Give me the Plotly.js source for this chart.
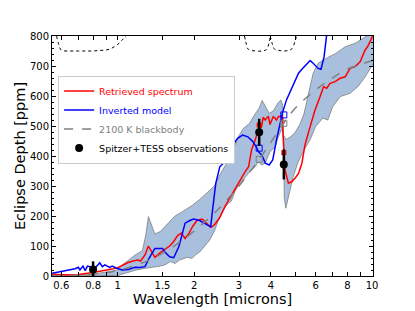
<!DOCTYPE html>
<html><head><meta charset="utf-8">
<script src="https://cdn.plot.ly/plotly-3.0.1.min.js"></script>
<style>html,body{margin:0;padding:0;background:#fff;} #chart{width:415px;height:311px;}</style>
</head><body><div id="chart"></div>
<script>
// Retrieved spectrum (red)
const retWave = [0.552,0.60,0.65,0.70,0.75,0.80,0.85,0.90,0.95,1.00,1.05,1.10,1.15,1.20,1.23,1.25,1.28,1.32,1.35,1.40,1.47,1.54,1.60,1.66,1.72,1.78,1.84,1.90,1.97,2.05,2.15,2.24,2.32,2.40,2.52,2.64,2.76,2.89,3.03,3.17,3.27,3.36,3.47,3.57,3.68,3.73,3.80,3.91,3.97,4.03,4.09,4.16,4.21,4.28,4.41,4.44,4.47,4.50,4.55,4.69,4.83,4.98,5.14,5.30,5.45,5.71,5.97,6.25,6.45,6.64,6.84,7.16,7.49,7.84,8.20,8.58,8.98,9.39,9.60,9.90,10.15];
const retDepth = [6,4,3,5,8,12,16,19,23,28,37,45,50,53,50,57,70,100,87,62,78,90,100,115,135,143,125,140,165,185,190,175,162,170,195,231,259,292,320,348,364,420,453,487,498,529,520,533,505,518,531,526,520,531,533,533,470,410,353,309,314,326,342,376,437,498,553,598,631,626,642,648,659,664,692,698,714,753,764,787,810];
// Inverted model (blue)
const invWave = [0.552,0.60,0.65,0.68,0.70,0.71,0.73,0.745,0.76,0.80,0.82,0.85,0.87,0.89,0.93,0.95,0.99,1.04,1.10,1.17,1.22,1.28,1.33,1.40,1.50,1.53,1.60,1.66,1.74,1.80,1.84,1.92,1.99,2.10,2.20,2.32,2.36,2.43,2.52,2.64,2.72,2.81,2.96,3.10,3.25,3.40,3.50,3.58,3.69,3.81,3.94,4.07,4.21,4.33,4.44,4.61,4.83,4.98,5.14,5.30,5.55,5.71,5.87,6.14,6.30,6.48,6.62,6.70];
const invDepth = [9,14,20,24,29,20,33,18,33,28,29,44,31,37,29,33,26,20,22,29,28,31,60,92,92,81,64,61,98,148,176,185,190,185,175,164,220,309,364,381,398,431,459,470,464,448,431,414,403,376,370,387,453,498,542,587,626,653,676,689,709,718,709,692,689,731,798,840];
// Retrieval uncertainty band
const upWave = [0.552,0.80,1.00,1.04,1.12,1.17,1.25,1.29,1.32,1.35,1.40,1.47,1.57,1.68,1.80,1.96,2.10,2.25,2.40,2.55,2.70,2.84,2.98,3.12,3.30,3.45,3.60,3.70,3.81,3.94,4.09,4.26,4.38,4.45,4.48,4.60,4.80,5.00,5.20,5.40,5.60,5.87,6.14,6.62,7.20,7.84,8.60,9.00,9.50,10.15];
const upDepth = [3,6,20,37,57,70,84,137,198,176,140,148,175,200,215,235,255,280,300,345,380,420,464,492,509,537,560,585,564,542,550,576,587,570,470,455,465,480,505,540,600,676,709,726,742,764,776,787,800,815];
const loWave = [0.552,0.80,1.00,1.08,1.18,1.29,1.40,1.47,1.53,1.61,1.68,1.75,1.87,1.96,2.02,2.10,2.20,2.30,2.40,2.50,2.60,2.70,2.80,2.90,3.03,3.17,3.31,3.47,3.57,3.68,3.80,3.97,4.16,4.28,4.40,4.47,4.52,4.58,4.70,4.90,5.10,5.40,5.70,6.00,6.40,6.70,7.00,7.50,8.20,8.80,9.40,10.15];
const loDepth = [0,1,2,10,20,26,30,33,37,48,42,53,62,59,70,80,100,120,150,190,220,240,250,285,309,331,348,364,381,370,376,414,431,464,487,480,260,226,264,331,376,420,453,498,526,520,564,598,609,631,664,710];
// 2100 K blackbody
const bbWave = [0.552,0.6,0.7,0.8,0.9,1.0,1.2,1.4,1.6,1.8,2.0,2.3,2.6,3.0,3.5,4.0,4.5,5.0,6.0,7.0,8.0,9.0,10.15];
const bbDepth = [0.5,1,3,6,11,18,38,62,90,120,150,195,240,300,375,445,510,560,620,660,690,705,720];
// Bandpasses (dotted, drawn near top)
const tessWave = [0.575,0.585,0.60,0.65,0.70,0.75,0.80,0.85,0.90,0.95,1.00,1.05,1.08];
const tessDepth = [800,775,753,750,750,750,750,752,753,760,772,790,800];
const ch1Wave = [3.15,3.19,3.25,3.35,3.50,3.70,3.85,3.93,3.98];
const ch1Depth = [800,780,757,752,750,750,755,775,800];
const ch2Wave = [3.98,4.05,4.15,4.30,4.50,4.70,4.85,4.97,5.05];
const ch2Depth = [800,775,755,752,750,752,758,780,800];
// Observations
const obsWave = [0.8, 3.6, 4.5];
const obsDepth = [22, 479, 372];
const obsErr = [27, 45, 50];
// Band-integrated model values
const binWave = [3.6, 4.5];
const binRet = [503, 411];
const binInv = [426, 537];
const binBB = [389, 509];
// Axis ticks
const xTickVals = [0.6,0.7,0.8,0.9,1,1.5,2,3,4,5,6,7,8,9,10];
const xTickText = ['0.6','','0.8','','1','1.5','2','3','4','','6','','8','','10'];

const traces = [
  {x: loWave, y: loDepth, mode:'lines', line:{color:'#7f7f7f', width:0.8}, showlegend:false, hoverinfo:'skip'},
  {x: upWave, y: upDepth, mode:'lines', fill:'tonexty', fillcolor:'rgb(168,192,222)', line:{color:'#7f7f7f', width:0.8}, showlegend:false, hoverinfo:'skip'},
  {x: retWave, y: retDepth, mode:'lines', name:'<span style="color:red">Retrieved spectrum</span>', line:{color:'red', width:1.5}},
  {x: invWave, y: invDepth, mode:'lines', name:'<span style="color:blue">Inverted model</span>', line:{color:'blue', width:1.5}},
  {x: bbWave, y: bbDepth, mode:'lines', name:'<span style="color:gray">2100 K blackbody</span>', line:{color:'gray', width:1.5, dash:'dash', shape:'spline'}},
  {x: tessWave, y: tessDepth, mode:'lines', line:{color:'black', width:1, dash:'dot', shape:'spline'}, showlegend:false},
  {x: ch1Wave, y: ch1Depth, mode:'lines', line:{color:'black', width:1, dash:'dot', shape:'spline'}, showlegend:false},
  {x: ch2Wave, y: ch2Depth, mode:'lines', line:{color:'black', width:1, dash:'dot', shape:'spline'}, showlegend:false},
  {x: binWave, y: binRet, mode:'markers', marker:{symbol:'square', size:5, color:'red'}, showlegend:false},
  {x: binWave, y: binInv, mode:'markers', marker:{symbol:'square-open', size:6, color:'blue', line:{width:1}}, showlegend:false},
  {x: binWave, y: binBB, mode:'markers', marker:{symbol:'square-open', size:6, color:'gray', line:{width:1}}, showlegend:false},
  {x: obsWave, y: obsDepth, mode:'markers', name:'Spitzer+TESS observations', marker:{color:'black', size:8},
   error_y:{type:'data', array: obsErr, color:'black', thickness:2.5, width:0}}
];

const layout = {
  width:415, height:311,
  margin:{l:52, r:42, t:36, b:35},
  paper_bgcolor:'white', plot_bgcolor:'white',
  font:{family:'DejaVu Sans', size:10, color:'black'},
  showlegend:true,
  legend:{x:0.019, y:0.835, xanchor:'left', yanchor:'top', traceorder:'normal', bgcolor:'white', bordercolor:'#cccccc', borderwidth:1, font:{size:9.5}, itemwidth:30},
  xaxis:{type:'log', range:[Math.log10(0.5515), Math.log10(10.09)], tickmode:'array', tickvals:xTickVals, ticktext:xTickText,
    ticks:'inside', ticklen:4, tickcolor:'black', mirror:'allticks', showline:true, linecolor:'black', linewidth:1,
    showgrid:false, zeroline:false, title:{text:'Wavelength [microns]', font:{size:14.5}, standoff:2}},
  yaxis:{range:[0,800], dtick:100, ticks:'inside', ticklen:4, tickcolor:'black', mirror:'allticks', showline:true, linecolor:'black', linewidth:1,
    showgrid:false, zeroline:false, minor:{dtick:20, ticks:'inside', ticklen:2, tickcolor:'black', showgrid:false},
    title:{text:'Eclipse Depth [ppm]', font:{size:14.5}, standoff:0}}
};
Plotly.newPlot('chart', traces, layout, {staticPlot:true, displayModeBar:false});
</script></body></html>
